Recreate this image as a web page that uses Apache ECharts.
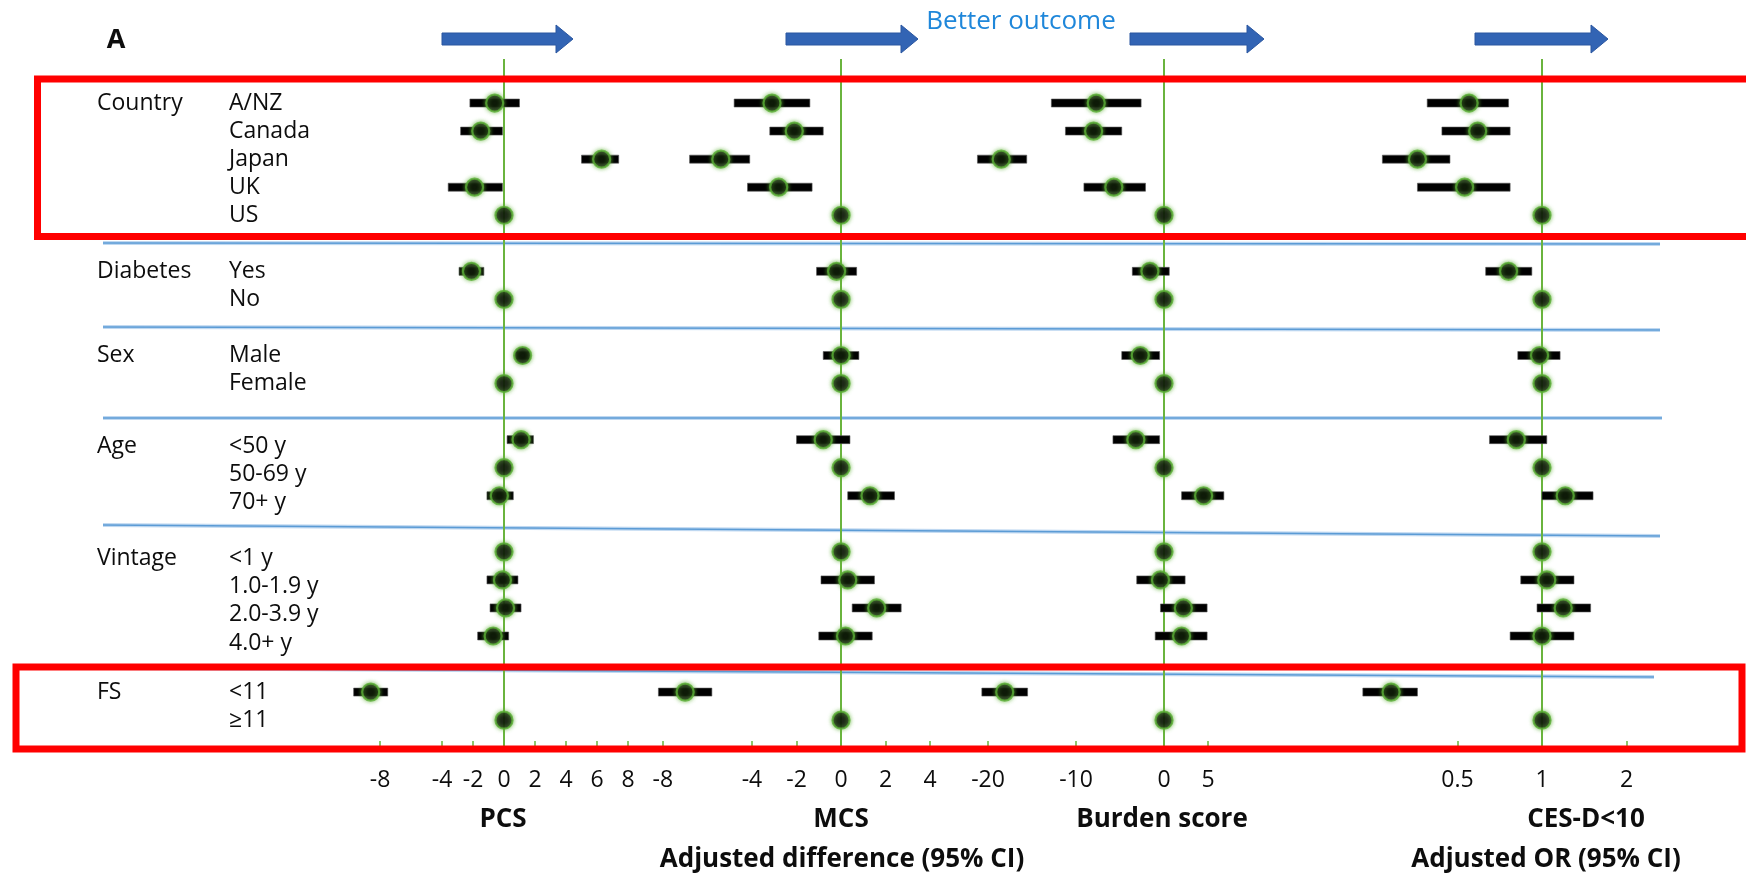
<!DOCTYPE html>
<html>
<head>
<meta charset="utf-8">
<script src="https://cdn.jsdelivr.net/npm/echarts@6/dist/echarts.min.js"></script>
<style>
  html, body { margin: 0; padding: 0; background: #fff; }
  #chart { width: 1746px; height: 874px; }
</style>
</head>
<body>
<div id="chart"></div>
<script>
// ---- Data -------------------------------------------------------------
const groupNames = ['Country', 'Diabetes', 'Sex', 'Age', 'Vintage', 'FS'];
const groupSizes = [5, 2, 2, 3, 4, 2];
const rowLabels = ['A/NZ', 'Canada', 'Japan', 'UK', 'US',
  'Yes', 'No',
  'Male', 'Female',
  '<50 y', '50-69 y', '70+ y',
  '<1 y', '1.0-1.9 y', '2.0-3.9 y', '4.0+ y',
  '<11', '≥11'];

// PCS: adjusted difference (95% CI); reference rows have no interval
const pcsEst  = [-0.6, -1.5, 6.3, -1.9, 0,  -2.1, 0,  1.2, 0,  1.1, 0, -0.3,  0, -0.1, 0.1, -0.7,  -8.6, 0];
const pcsLow  = [-2.2, -2.8, 5.0, -3.6, null, -2.9, null, 0.8, null, 0.2, null, -1.1, null, -1.1, -0.9, -1.7, -9.7, null];
const pcsHigh = [1.0, -0.1, 7.4, -0.1, null, -1.3, null, 1.6, null, 1.9, null, 0.6, null, 0.9, 1.1, 0.3, -7.5, null];

// MCS: adjusted difference (95% CI)
const mcsEst  = [-3.1, -2.1, -5.4, -2.8, 0,  -0.2, 0,  0.0, 0,  -0.8, 0, 1.3,  0, 0.3, 1.6, 0.2,  -7.0, 0];
const mcsLow  = [-4.8, -3.2, -6.8, -4.2, null, -1.1, null, -0.8, null, -2.0, null, 0.3, null, -0.9, 0.5, -1.0, -8.2, null];
const mcsHigh = [-1.4, -0.8, -4.1, -1.3, null, 0.7, null, 0.8, null, 0.4, null, 2.4, null, 1.5, 2.7, 1.4, -5.8, null];

// Burden score: adjusted difference (95% CI)
const burdenEst  = [-7.7, -8.0, -18.5, -5.7, 0,  -1.6, 0,  -2.7, 0,  -3.2, 0, 4.5,  0, -0.4, 2.2, 2.0,  -18.1, 0];
const burdenLow  = [-12.8, -11.2, -21.2, -9.1, null, -3.6, null, -4.8, null, -5.8, null, 2.0, null, -3.1, -0.4, -1.0, -20.7, null];
const burdenHigh = [-2.6, -4.8, -15.6, -2.1, null, 0.6, null, -0.5, null, -0.5, null, 6.8, null, 2.4, 4.9, 4.9, -15.5, null];

// CES-D<10: adjusted odds ratio (95% CI)
const cesdEst  = [0.55, 0.59, 0.36, 0.53, 1,  0.76, 1,  0.98, 1,  0.81, 1, 1.21,  1, 1.04, 1.19, 1.00,  0.29, 1];
const cesdLow  = [0.39, 0.44, 0.27, 0.36, null, 0.63, null, 0.82, null, 0.65, null, 1.00, null, 0.84, 0.96, 0.77, 0.23, null];
const cesdHigh = [0.76, 0.77, 0.47, 0.77, null, 0.92, null, 1.16, null, 1.04, null, 1.52, null, 1.30, 1.49, 1.30, 0.36, null];

// Axis tick labels
const pcsTicks = [-8, -4, -2, 0, 2, 4, 6, 8];
const mcsTicks = [-8, -4, -2, 0, 2, 4];
const burdenTicks = [-20, -10, 0, 5];
const cesdTicks = [0.5, 1, 2];

const panelTitles = ['PCS', 'MCS', 'Burden score', 'CES-D<10'];

// ---- Layout helpers ----------------------------------------------------
const FONT = '"Open Sans", "Noto Sans", sans-serif';
const GREEN = '#6AB43E';
const TEXT = '#0d0d0d';

// Groups whose row labels sit a little below their markers
const loweredGroups = ['Age', 'Vintage'];

// Rows of each group are consecutive; one blank row separates groups
const rowPos = [];
const groupStart = [];
const rowGroup = [];
(function () {
  let r = 0;
  groupSizes.forEach(function (n, g) {
    groupStart.push(rowPos.length);
    for (let i = 0; i < n; i++) { rowPos.push(r++); rowGroup.push(g); }
    r++;
  });
})();

const panels = [
  { est: pcsEst, low: pcsLow, high: pcsHigh, ticks: pcsTicks, ref: 0,
    axis: { type: 'value', min: -10, max: 10 }, left: 349, width: 310 },
  { est: mcsEst, low: mcsLow, high: mcsHigh, ticks: mcsTicks, ref: 0,
    axis: { type: 'value', min: -9, max: 9 }, left: 640.6, width: 400.9 },
  { est: burdenEst, low: burdenLow, high: burdenHigh, ticks: burdenTicks, ref: 0,
    axis: { type: 'value', min: -25, max: 10 }, left: 944, width: 308 },
  { est: cesdEst, low: cesdLow, high: cesdHigh, ticks: cesdTicks, ref: 1,
    axis: { type: 'log', logBase: 2, min: 0.125, max: 4 }, left: 1288.5, width: 422.5 }
];

const GRID_TOP = 59;
const GRID_HEIGHT = 692;
const Y_MIN = -1.57;
const Y_MAX = 23.1;
const LABEL_SIZE = 23;

const grids = [], xAxes = [], yAxes = [], series = [];

panels.forEach(function (p, k) {
  grids.push({ left: p.left, width: p.width, top: GRID_TOP, height: GRID_HEIGHT,
    containLabel: false, outerBoundsMode: 'none' });

  xAxes.push(Object.assign({}, p.axis, {
    gridIndex: k,
    position: 'bottom',
    axisLine: { show: false, onZero: false },
    splitLine: { show: false },
    axisTick: { show: true, inside: true, length: 10, customValues: p.ticks,
      lineStyle: { color: GREEN, width: 1.5 } },
    axisLabel: { customValues: p.ticks, margin: 18, fontSize: 23, color: TEXT,
      fontFamily: FONT, formatter: function (v) { return String(v); } }
  }));

  const yAx = {
    type: 'value', gridIndex: k, inverse: true, min: Y_MIN, max: Y_MAX,
    axisLine: { show: false, onZero: false }, axisTick: { show: false }, splitLine: { show: false },
    axisLabel: { show: false }
  };
  if (k === 0) {
    // Row labels: group name column and level column
    const txt = { fontSize: LABEL_SIZE, color: TEXT, fontFamily: FONT };
    const low = { padding: [14, 0, 0, 0] };
    yAx.axisLabel = {
      show: true,
      customValues: rowPos,
      align: 'left',
      margin: p.left - 97,
      formatter: function (v) {
        const i = rowPos.indexOf(Math.round(v));
        if (i < 0) return '';
        const g = groupStart.indexOf(i);
        const d = loweredGroups.indexOf(groupNames[rowGroup[i]]) >= 0 ? '2' : '';
        return '{g' + d + '|' + (g >= 0 ? groupNames[g] : '\u00a0') + '}{s' + d + '|' + rowLabels[i] + '}';
      },
      rich: {
        g: Object.assign({ width: 132 }, txt),
        s: Object.assign({}, txt),
        g2: Object.assign({ width: 132 }, txt, low),
        s2: Object.assign({}, txt, low)
      }
    };
  }
  yAxes.push(yAx);

  // Confidence intervals as thick horizontal bars
  const ciData = [];
  p.low.forEach(function (lo, i) {
    if (lo !== null) ciData.push([lo, p.high[i], rowPos[i]]);
  });
  series.push({
    type: 'custom',
    xAxisIndex: k, yAxisIndex: k,
    z: 8,
    silent: true,
    encode: { x: [0, 1], y: 2 },
    data: ciData,
    renderItem: function (params, api) {
      const a = api.coord([api.value(0), api.value(2)]);
      const b = api.coord([api.value(1), api.value(2)]);
      return {
        type: 'rect',
        shape: { x: a[0], y: a[1] - 4, width: b[0] - a[0], height: 8 },
        style: { fill: '#000', stroke: '#555', lineWidth: 0.6 }
      };
    },
    markLine: {
      silent: true, z: 3,
      symbol: ['none', 'none'],
      label: { show: false },
      lineStyle: { color: GREEN, width: 2, type: 'solid' },
      data: [{ xAxis: p.ref }]
    }
  });

  // Point estimates
  series.push({
    type: 'scatter',
    xAxisIndex: k, yAxisIndex: k,
    z: 10,
    silent: true,
    symbol: 'circle',
    symbolSize: 17,
    itemStyle: { color: '#000', borderColor: '#5AAE36', borderWidth: 2.2,
      shadowColor: 'rgba(100,180,60,0.9)', shadowBlur: 4 },
    data: p.est.map(function (v, i) { return [v, rowPos[i]]; })
  });
});

// ---- Decorations --------------------------------------------------------
function arrow(x0, x1, y) {
  return {
    type: 'polygon', z: 20,
    shape: { points: [[x0, y - 6], [x1 - 17, y - 6], [x1 - 17, y - 14], [x1, y],
      [x1 - 17, y + 14], [x1 - 17, y + 6], [x0, y + 6]] },
    style: { fill: '#3264B4', stroke: '#2A56A0', lineWidth: 1 }
  };
}
function rule(x1, y1, x2, y2) {
  return [
    { type: 'line', z: 1, shape: { x1: x1, y1: y1, x2: x2, y2: y2 },
      style: { stroke: '#BFD8F1', lineWidth: 4 } },
    { type: 'line', z: 2, shape: { x1: x1, y1: y1, x2: x2, y2: y2 },
      style: { stroke: '#5B9BD5', lineWidth: 1.6 } }
  ];
}
function label(text, x, y, size, bold, color) {
  return {
    type: 'text', z: 30, x: x, y: y,
    style: { text: text, fill: color || TEXT, font: (bold ? 'bold ' : '') + size + 'px ' + FONT,
      textAlign: 'center', textVerticalAlign: 'middle' }
  };
}

const elements = [].concat(
  rule(103, 243, 1660, 244),
  rule(103, 327, 1660, 330),
  rule(103, 418, 1662, 418),
  rule(103, 525, 1660, 536),
  rule(103, 668, 1654, 677),
  [
    arrow(442, 573, 39),
    arrow(786, 918, 39),
    arrow(1130, 1264, 39),
    arrow(1475, 1608, 39),
    label('A', 116, 40, 27, true),
    label('Better outcome', 1021, 22, 26, false, '#1F87DA'),
    label(panelTitles[0], 503, 820, 26, true),
    label(panelTitles[1], 841, 820, 26, true),
    label(panelTitles[2], 1162, 820, 26, true),
    label(panelTitles[3], 1586, 820, 26, true),
    label('Adjusted difference (95% CI)', 842, 860, 26, true),
    label('Adjusted OR (95% CI)', 1546, 860, 26, true),
    { type: 'rect', z: 50, shape: { x: 37.5, y: 79, width: 1730, height: 157.5 },
      style: { fill: 'none', stroke: '#FF0000', lineWidth: 7 } },
    { type: 'rect', z: 50, shape: { x: 16, y: 667, width: 1726, height: 82 },
      style: { fill: 'none', stroke: '#FF0000', lineWidth: 7 } }
  ]
);

const chart = echarts.init(document.getElementById('chart'), null, { renderer: 'canvas' });
chart.setOption({
  backgroundColor: '#fff',
  animation: false,
  grid: grids,
  xAxis: xAxes,
  yAxis: yAxes,
  series: series,
  graphic: { elements: elements }
});
</script>
</body>
</html>
